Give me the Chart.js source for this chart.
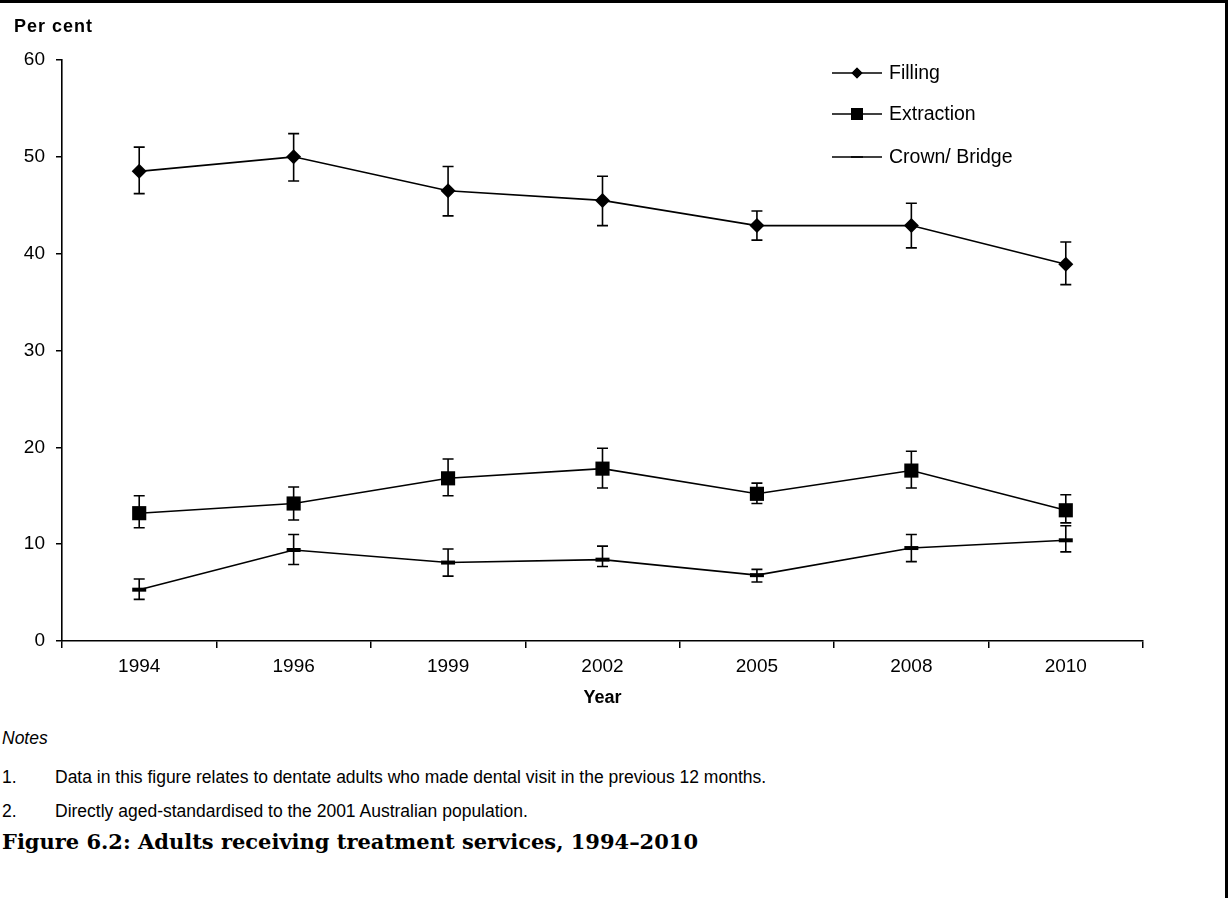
<!DOCTYPE html>
<html>
<head>
<meta charset="utf-8">
<title>Adults receiving treatment services, 1994–2010</title>
<script src="https://cdn.jsdelivr.net/npm/chart.js@4/dist/chart.umd.min.js"></script>
<style>
  html, body { margin: 0; padding: 0; background: #fff; }
  body { width: 1228px; height: 898px; position: relative; overflow: hidden; }
  #wrap { position: absolute; left: 0; top: 0; width: 1228px; height: 720px; }
  .frame-top { position: absolute; left: 0; top: 0; width: 1228px; height: 3px; background: #000; }
  .frame-right { position: absolute; right: 0; top: 0; width: 3px; height: 898px; background: #000; }
  .note { position: absolute; font-family: "Liberation Sans", Arial, sans-serif; font-size: 17.5px; color: #000; white-space: nowrap; line-height: 20px; }
  .note .num { position: absolute; left: 0; }
  .note .txt { position: absolute; left: 53px; }
  .caption { position: absolute; left: 2px; top: 829px; font-family: "DejaVu Serif", "Liberation Serif", serif; font-weight: bold; font-size: 21px; color: #000; white-space: nowrap; line-height: 26px; transform-origin: 0 0; }
</style>
</head>
<body>
<div id="wrap"><canvas id="chart" width="1228" height="720"></canvas></div>
<div class="note" style="left:2px; top:728px; font-style:italic;">Notes</div>
<div class="note" style="left:2px; top:767px; width:1100px;"><span class="num">1.</span><span class="txt">Data in this figure relates to dentate adults who made dental visit in the previous 12 months.</span></div>
<div class="note" style="left:2px; top:801px; width:1100px;"><span class="num">2.</span><span class="txt">Directly aged-standardised to the 2001 Australian population.</span></div>
<div class="caption" id="caption">Figure 6.2: Adults receiving treatment services, 1994–2010</div>
<div class="frame-top"></div>
<div class="frame-right"></div>

<script>
// Survey years
const years = ['1994', '1996', '1999', '2002', '2005', '2008', '2010'];

// Per cent of adults receiving each service, with 95% confidence limits
const filling      = [48.5, 50.0, 46.5, 45.5, 42.9, 42.9, 38.9];
const fillingLow   = [46.2, 47.5, 43.9, 42.9, 41.4, 40.6, 36.8];
const fillingHigh  = [51.0, 52.4, 49.0, 48.0, 44.4, 45.2, 41.2];

const extraction     = [13.2, 14.2, 16.8, 17.8, 15.2, 17.6, 13.5];
const extractionLow  = [11.7, 12.5, 15.0, 15.8, 14.2, 15.8, 12.2];
const extractionHigh = [15.0, 15.9, 18.8, 19.9, 16.3, 19.6, 15.1];

const crown     = [5.3, 9.4, 8.1, 8.4, 6.8, 9.6, 10.4];
const crownLow  = [4.3, 7.9, 6.7, 7.7, 6.1, 8.2, 9.2];
const crownHigh = [6.4, 11.0, 9.5, 9.8, 7.4, 11.0, 11.9];

const seriesNames = ['Filling', 'Extraction', 'Crown/ Bridge'];
const yTicks = [0, 10, 20, 30, 40, 50, 60];

const FONT = '"Liberation Sans", Arial, sans-serif';

// Stretch the caption to its set width
(function fitCaption() {
  const el = document.getElementById('caption');
  const w = el.getBoundingClientRect().width;
  el.style.transform = 'scaleX(' + (696 / w) + ')';
})();

// Vertical error bars with caps, drawn from each dataset's low/high arrays
const errorBars = {
  id: 'errorBars',
  beforeDatasetsDraw(chart) {
    const ctx = chart.ctx;
    const xs = chart.scales.x, ys = chart.scales.y;
    ctx.save();
    ctx.strokeStyle = '#000';
    ctx.lineWidth = 1.6;
    chart.data.datasets.forEach(ds => {
      ds.low.forEach((lo, i) => {
        const x = xs.getPixelForValue(i);
        const yl = ys.getPixelForValue(lo);
        const yh = ys.getPixelForValue(ds.high[i]);
        const cap = 5.5;
        ctx.beginPath();
        ctx.moveTo(x, yl); ctx.lineTo(x, yh);
        ctx.moveTo(x - cap, yl); ctx.lineTo(x + cap, yl);
        ctx.moveTo(x - cap, yh); ctx.lineTo(x + cap, yh);
        ctx.stroke();
      });
    });
    ctx.restore();
  }
};

// Axis caption above the value axis and a line-plus-marker legend
const extras = {
  id: 'extras',
  afterDraw(chart) {
    const ctx = chart.ctx;
    ctx.save();
    ctx.fillStyle = '#000';
    ctx.font = 'bold 18px ' + FONT;
    ctx.letterSpacing = '1px';
    ctx.textAlign = 'left';
    ctx.textBaseline = 'middle';
    ctx.fillText('Per cent', 14, 27);
    ctx.letterSpacing = '0px';

    const rows = [73, 114, 157];
    chart.data.datasets.forEach((ds, i) => {
      const y = rows[i];
      ctx.strokeStyle = '#000';
      ctx.lineWidth = 1.6;
      ctx.beginPath();
      ctx.moveTo(832, y); ctx.lineTo(882, y);
      ctx.stroke();
      Chart.helpers.drawPoint(ctx, {
        pointStyle: ds.pointStyle,
        radius: ds.legendRadius,
        borderWidth: ds.pointBorderWidth
      }, 857, y);
      ctx.fillStyle = '#000';
      ctx.strokeStyle = '#000';
      if (ds.pointStyle !== 'line') ctx.fill();
      ctx.font = '19.5px ' + FONT;
      ctx.textBaseline = 'middle';
      ctx.fillText(ds.label, 889, y + 1);
    });
    ctx.restore();
  }
};

new Chart(document.getElementById('chart'), {
  type: 'line',
  data: {
    labels: years,
    datasets: [
      {
        label: seriesNames[0], data: filling, low: fillingLow, high: fillingHigh,
        borderColor: '#000', borderWidth: 1.6, pointStyle: 'rectRot',
        pointRadius: 7.5, pointBorderWidth: 0, pointBackgroundColor: '#000',
        legendRadius: 5.5
      },
      {
        label: seriesNames[1], data: extraction, low: extractionLow, high: extractionHigh,
        borderColor: '#000', borderWidth: 1.6, pointStyle: 'rect',
        pointRadius: 10, pointBorderWidth: 0, pointBackgroundColor: '#000',
        legendRadius: 8.5
      },
      {
        label: seriesNames[2], data: crown, low: crownLow, high: crownHigh,
        borderColor: '#000', borderWidth: 1.6, pointStyle: 'line',
        pointRadius: 7, pointBorderWidth: 4, pointBorderColor: '#000',
        pointBackgroundColor: '#000', legendRadius: 6
      }
    ]
  },
  options: {
    responsive: false,
    animation: false,
    devicePixelRatio: 1,
    layout: { padding: { left: 0, right: 85, top: 60, bottom: 0 } },
    plugins: { legend: { display: false }, tooltip: { enabled: false } },
    elements: { line: { tension: 0 } },
    scales: {
      x: {
        offset: true,
        grid: {
          offset: true, drawOnChartArea: false, drawTicks: true,
          tickLength: 7, color: '#000', lineWidth: 1.5
        },
        border: { color: '#000', width: 1.6 },
        ticks: { color: '#000', font: { family: FONT, size: 19 }, padding: 7, maxRotation: 0 },
        title: {
          display: true, text: 'Year', color: '#000',
          font: { family: FONT, size: 18, weight: 'bold' },
          padding: { top: 0, bottom: 11 }
        },
        afterFit(scale) { scale.height = 79; }
      },
      y: {
        min: 0, max: 60,
        afterBuildTicks(scale) { scale.ticks = yTicks.map(v => ({ value: v })); },
        grid: {
          drawOnChartArea: false, drawTicks: true, tickLength: 6,
          color: '#000', lineWidth: 1.5
        },
        border: { color: '#000', width: 1.6 },
        ticks: { color: '#000', font: { family: FONT, size: 19 }, padding: 11 },
        afterFit(scale) { scale.width = 62; }
      }
    }
  },
  plugins: [errorBars, extras]
});
</script>
</body>
</html>
